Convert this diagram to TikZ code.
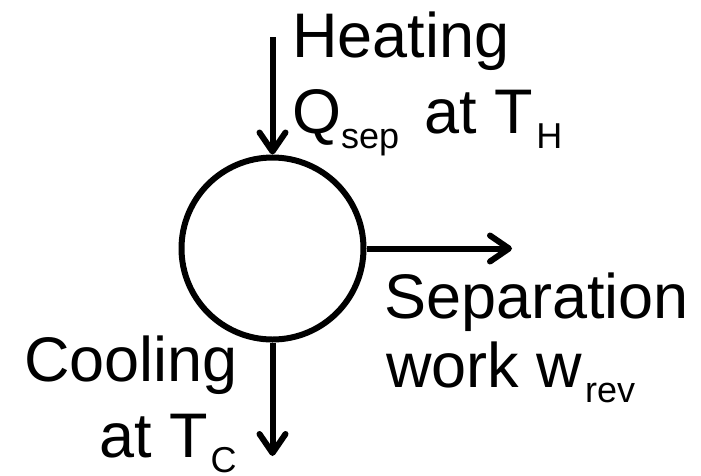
\documentclass[tikz,border=0pt]{standalone}
\usepackage{fontspec}
\setmainfont{Liberation Sans}
\usetikzlibrary{arrows.meta}
% lowered subscript, with an optional kern before it
\newcommand{\lowsub}[2][3pt]{\kern#1\raisebox{-15pt}{\fontsize{36}{36}\selectfont #2}}
\begin{document}
\begin{tikzpicture}[x=1pt,y=-1pt,
  flow/.style={line width=6pt,-{Straight Barb[length=19pt,width=26pt,line cap=round,line join=round]}},
  lbl/.style={anchor=base west,inner sep=0pt,font=\fontsize{63}{63}\selectfont}]
  \useasboundingbox (0,0) rectangle (701,475);
  \node[circle,draw,line width=6pt,minimum size=182pt,inner sep=0pt] (unit) at (272.5,248.5) {};
  \coordinate (src) at (272.5,37);
  \coordinate (work) at (512,248.5);
  \coordinate (sink) at (272.5,456);
  \draw[flow] (src) -- (unit.north);
  \draw[flow] (unit.east) -- (work);
  \draw[flow] (unit.south) -- (sink);
  \node[lbl] (heat) at (292,57) {Heating};
  \node[lbl] (qsep) at (292,133) {Q\lowsub[0pt]{sep}\hspace{8pt} at T\lowsub{H}};
  \node[lbl] (sep) at (384,318) {Separation};
  \node[lbl] (wrev) at (386,387) {work w\lowsub{rev}};
  \node[lbl] (cool) at (24,381) {Cooling};
  \node[lbl] (atc) at (99,457) {at T\lowsub{C}};
\end{tikzpicture}
\end{document}
